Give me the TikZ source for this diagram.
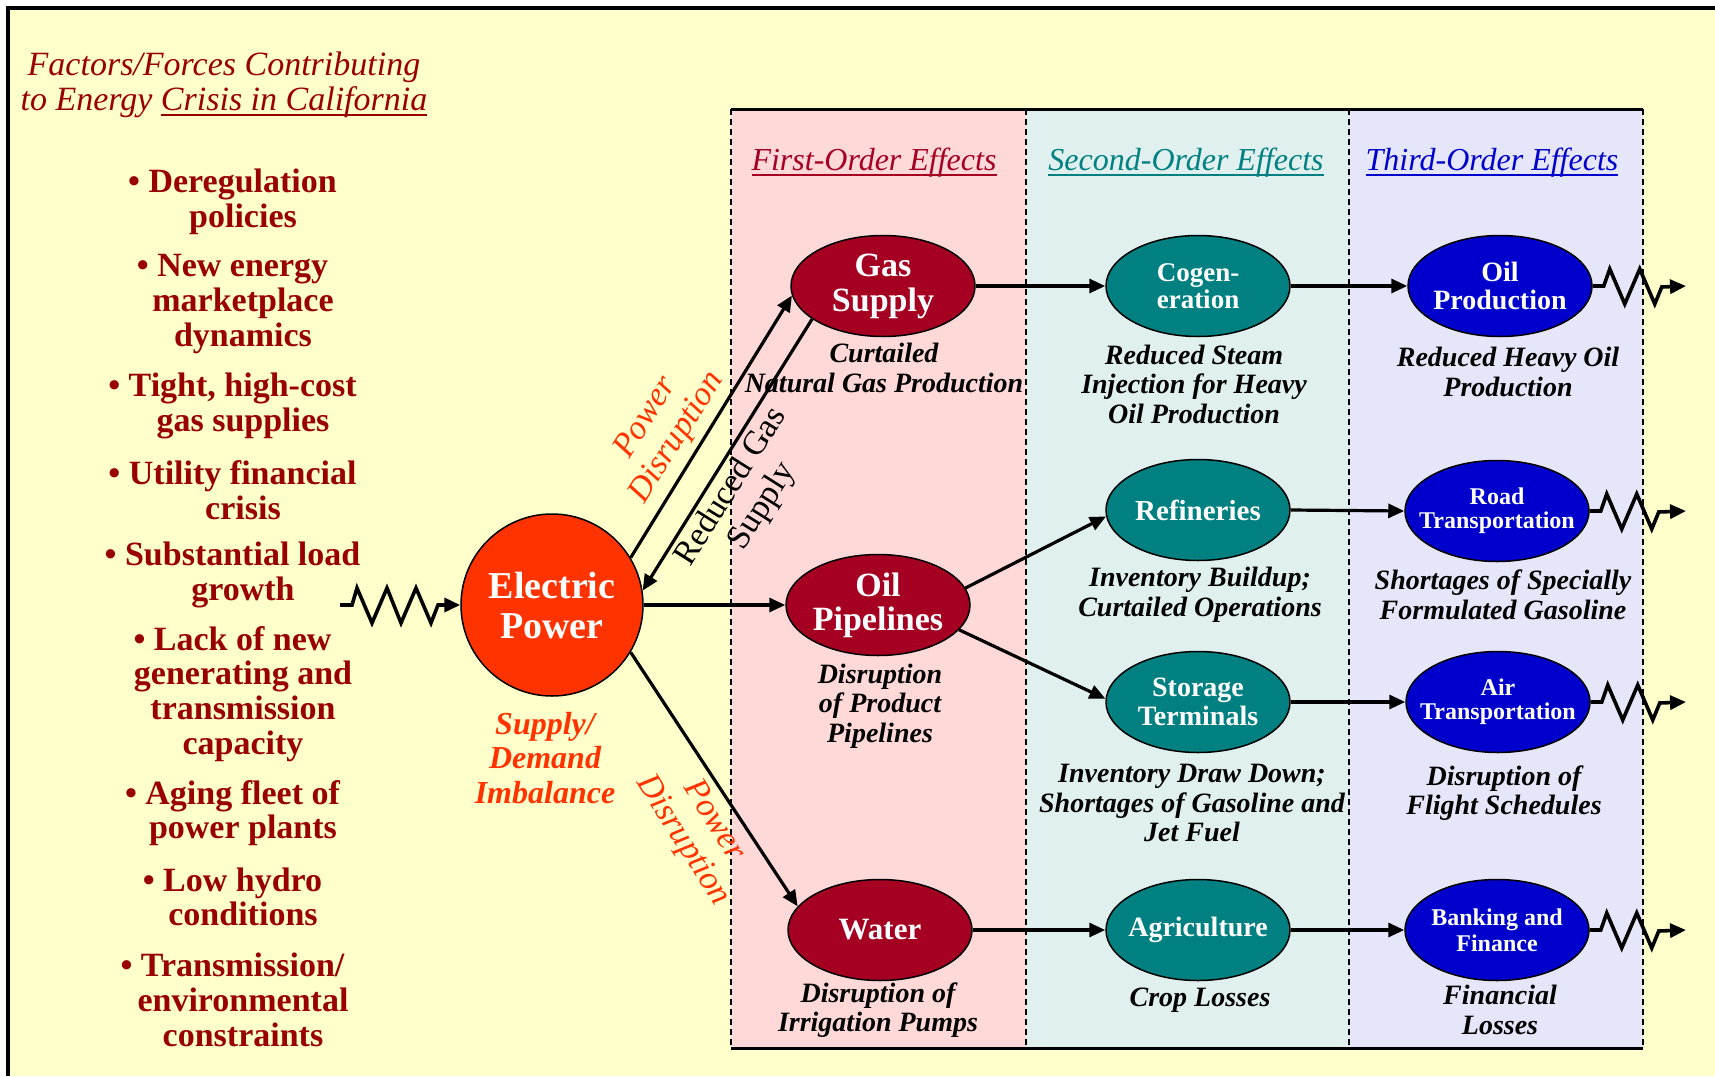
\documentclass[tikz,border=0pt]{standalone}
\usepackage{fontspec}
\setmainfont{Liberation Serif}
\usetikzlibrary{shapes.geometric, arrows.meta, positioning}

\definecolor{paper}{HTML}{FFFFCC}
\definecolor{firstbg}{HTML}{FFD8D8}
\definecolor{secondbg}{HTML}{DFF0EE}
\definecolor{thirdbg}{HTML}{E6E6FA}
\definecolor{firstred}{HTML}{A50021}
\definecolor{secondteal}{HTML}{008080}
\definecolor{thirdblue}{HTML}{0000CC}
\definecolor{powerred}{HTML}{FF3300}
\definecolor{factorred}{HTML}{990000}

% underline drawn a little below the baseline
\newcommand{\underlinetext}[1]{\setbox0\hbox{#1}\rlap{\rule[-5pt]{\wd0}{1.8pt}}\box0}
% bullet line, set a little left of the lines under it
\newcommand{\factorhead}[1]{• #1\hspace*{21pt}}

\tikzset{
  effect/.style={ellipse, draw=black, line width=1.5pt, minimum width=184pt,
    minimum height=101pt, inner xsep=-22pt, inner ysep=-12pt, text=white, align=center},
  first/.style={effect, fill=firstred},
  second/.style={effect, fill=secondteal},
  third/.style={effect, fill=thirdblue},
  caption/.style={align=center, font=\bfseries\itshape\fontsize{28}{29.5}\selectfont},
  factor/.style={align=center, text=factorred, font=\bfseries\fontsize{34}{34.7}\selectfont},
  header/.style={font=\itshape\fontsize{32}{34}\selectfont},
  flowlabel/.style={align=center, font=\fontsize{34}{37}\selectfont},
  flow/.style={-{Triangle[length=16pt,width=14pt]}, line width=3.2pt},
  zigflow/.style={flow, line width=3.6pt},
  divider/.style={line width=1.4pt, dash pattern=on 6pt off 4pt}
}

\begin{document}
\begin{tikzpicture}[x=1pt, y=-1pt]
    % Paper and frame
    \fill[white] (0,0) rectangle (1715,1076);
    \useasboundingbox (0,0) rectangle (1715,1076);
    \fill[paper] (8,8) rectangle (1715,1076);
    \draw[line width=4pt] (8,1076) -- (8,8) -- (1715,8);
    % Effect columns
    \fill[firstbg] (731,109) rectangle (1026,1048);
    \fill[secondbg] (1026,109) rectangle (1349,1048);
    \fill[thirdbg] (1349,109) rectangle (1643,1048);
    \foreach \x in {731,1026,1349,1643}
      \draw[divider] (\x,109) -- (\x,1048);
    \draw[line width=3pt] (731,109) -- (1643,109);
    \draw[line width=3pt] (731,1048) -- (1643,1048);
    % Headers
    \node[align=center, text=factorred, font=\itshape\fontsize{34}{35}\selectfont] (title) at (224,85)
      {Factors/Forces Contributing\\to Energy \underlinetext{Crisis in California}};
    \node[header, text=firstred] (h1) at (874,163) {\underlinetext{First-Order Effects}};
    \node[header, text=secondteal] (h2) at (1186,163) {\underlinetext{Second-Order Effects}};
    \node[header, text=thirdblue] (h3) at (1492,163) {\underlinetext{Third-Order Effects}};
    % Factors
    \node[factor] (f1) at (243,202) {\factorhead{Deregulation}\\policies};
    \node[factor] (f2) at (243,304) {\factorhead{New energy}\\marketplace\\dynamics};
    \node[factor] (f3) at (243,406) {\factorhead{Tight, high-cost}\\gas supplies};
    \node[factor] (f4) at (243,490) {\factorhead{Utility financial}\\crisis};
    \node[factor] (f5) at (243,575) {\factorhead{Substantial load}\\growth};
    \node[factor] (f6) at (243,694) {\factorhead{Lack of new}\\generating and\\transmission\\capacity};
    \node[factor] (f7) at (243,813) {\factorhead{Aging fleet of}\\power plants};
    \node[factor] (f8) at (243,897) {\factorhead{Low hydro}\\conditions};
    \node[factor] (f9) at (243,1000) {\factorhead{Transmission/}\\environmental\\constraints};
    % Electric power
    \node[circle, draw=black, line width=1.5pt, fill=powerred, minimum size=182pt, inner sep=0pt,
      text=white, align=center, font=\bfseries\fontsize{38}{40}\selectfont] (elec) at (552,605) {Electric\\Power};
    \node[align=center, text=powerred, font=\bfseries\itshape\fontsize{32}{34.5}\selectfont] (imbal) at (545,758)
      {Supply/\\Demand\\Imbalance};
    % First-order effects
    \node[first, font=\bfseries\fontsize{34}{35}\selectfont] (gas) at (883,286) {Gas\\Supply};
    \node[first, font=\bfseries\fontsize{34}{34}\selectfont] (oil) at (878,605) {Oil\\Pipelines};
    \node[first, font=\bfseries\fontsize{31}{33}\selectfont] (water) at (880,930) {Water};
    \node[caption] (gascap) at (884,368) {Curtailed\\Natural Gas Production};
    \node[caption] (oilcap) at (880,706) {Disruption\\of Product\\Pipelines};
    \node[caption] (watercap) at (878,1010) {Disruption of\\Irrigation Pumps};
    % Second-order effects
    \node[second, font=\bfseries\fontsize{27}{27}\selectfont] (cogen) at (1198,286) {Cogen-\\eration};
    \node[second, font=\bfseries\fontsize{29}{30}\selectfont] (refin) at (1198,510) {Refineries};
    \node[second, font=\bfseries\fontsize{28}{28.4}\selectfont] (storage) at (1198,702) {Storage\\Terminals};
    \node[second, font=\bfseries\fontsize{28}{29}\selectfont] (agri) at (1198,930) {Agriculture};
    \node[caption] (cogencap) at (1194,384) {Reduced Steam\\Injection for Heavy\\Oil Production};
    \node[caption] (refincap) at (1200,595) {Inventory Buildup;\\Curtailed Operations};
    \node[caption] (storagecap) at (1192,803) {Inventory Draw Down;\\Shortages of Gasoline and\\Jet Fuel};
    \node[caption] (agricap) at (1200,1000) {Crop Losses};
    % Third-order effects
    \node[third, font=\bfseries\fontsize{28}{28.4}\selectfont] (oilprod) at (1500,286) {Oil\\Production};
    \node[third, font=\bfseries\fontsize{24}{24}\selectfont] (road) at (1497,511) {Road\\Transportation};
    \node[third, font=\bfseries\fontsize{24}{24}\selectfont] (air) at (1498,702) {Air\\Transportation};
    \node[third, font=\bfseries\fontsize{24}{26}\selectfont] (bank) at (1497,930) {Banking and\\Finance};
    \node[caption] (oilprodcap) at (1508,372) {Reduced Heavy Oil\\Production};
    \node[caption] (roadcap) at (1503,595) {Shortages of Specially\\Formulated Gasoline};
    \node[caption] (aircap) at (1504,793) {Disruption of\\Flight Schedules};
    \node[caption] (bankcap) at (1500,1010) {Financial\\Losses};
    % Flows out of electric power
    \draw[flow] (elec.31) -- (gas.186);
    \draw[flow] (gas.205) -- (elec.9);
    \draw[flow] (elec.east) -- (oil.west);
    \draw[flow] (elec.-31) -- (water.164);
    \node[flowlabel, text=powerred, font=\itshape\fontsize{34}{37}\selectfont, rotate=57.8] (pd1) at (662,428) {Power\\Disruption};
    \node[flowlabel, rotate=57.8] (rgs) at (747,497) {Reduced Gas\\Supply};
    \node[flowlabel, text=powerred, font=\itshape\fontsize{34}{37}\selectfont, rotate=-57.6] (pd2) at (698,831) {Power\\Disruption};
    % Flows between effects
    \draw[flow] (gas.east) -- (cogen.west);
    \draw[flow] (cogen.east) -- (oilprod.west);
    \draw[flow] (oil.11) -- (refin.184);
    \draw[flow] (oil.-17) -- (storage.178);
    \draw[flow] (refin.east) -- (road.west);
    \draw[flow] (storage.east) -- (air.west);
    \draw[flow] (water.east) -- (agri.west);
    \draw[flow] (agri.east) -- (bank.west);
    % Zigzag inputs and outputs
    \coordinate (fin) at (340,605);
    \draw[zigflow] (fin) -- ++(12,0) -- ++(5,-17) -- ++(15,35) -- ++(15,-35) -- ++(14,35)
      -- ++(15,-35) -- ++(15,35) -- ++(7,-18) -- (elec.west);
    \foreach \n/\y in {oilprod/286, road/511, air/702, bank/930} {
      \coordinate (\n-out) at (1686,\y);
      \draw[zigflow] (\n.east) -- ++(11,0) -- ++(6,-17) -- ++(15,35) -- ++(15,-35)
        -- ++(15,35) -- ++(7,-17) -- (\n-out);
    }
\end{tikzpicture}
\end{document}
